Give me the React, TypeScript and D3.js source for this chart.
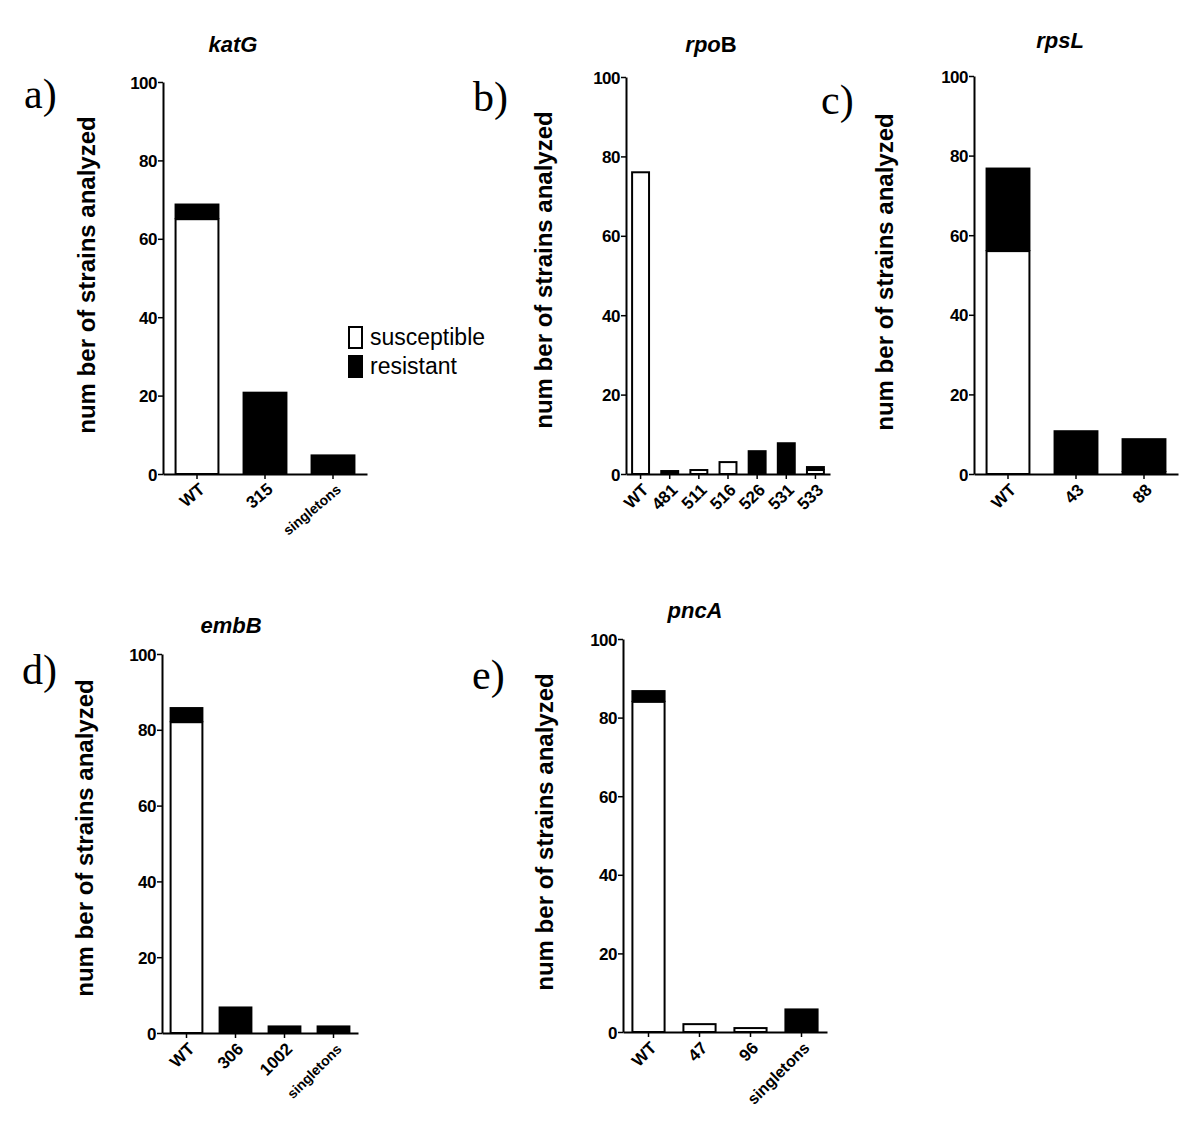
import React, { useRef, useEffect } from 'react';
import * as d3 from 'd3';

// values (counts of strains)
const yTicks = [0, 20, 40, 60, 80, 100];

const katgCats = ['WT', '315', 'singletons'];
const katgSusceptible = [65, 0, 0];
const katgResistant = [4, 21, 5];

const rpobCats = ['WT', '481', '511', '516', '526', '531', '533'];
const rpobSusceptible = [76, 0, 1, 3, 0, 0, 1];
const rpobResistant = [0, 1, 0, 0, 6, 8, 1];

const rpslCats = ['WT', '43', '88'];
const rpslSusceptible = [56, 0, 0.5];
const rpslResistant = [21, 11, 8.5];

const embbCats = ['WT', '306', '1002', 'singletons'];
const embbSusceptible = [82, 0, 0, 0];
const embbResistant = [4, 7, 2, 2];

const pncaCats = ['WT', '47', '96', 'singletons'];
const pncaSusceptible = [84, 2, 1, 0];
const pncaResistant = [3, 0, 0, 6];

const legendLabels = ['susceptible', 'resistant'];

const SANS = "'Liberation Sans', Arial, sans-serif";
const SERIF = "'Liberation Serif', 'Times New Roman', serif";

type Panel = {
  letter: string;
  title: [string, string]; // italic part, upright part
  cats: string[];
  sus: number[];
  res: number[];
  x0: number; x1: number; y0: number; y100: number;
  pad: number;
  letterPos: [number, number];
  titlePos: [number, number];
  ylabelPos: [number, number];
  rot: number;
  longSize: number;
};

const panels: Panel[] = [
  { letter: 'a)', title: ['katG', ''], cats: katgCats, sus: katgSusceptible, res: katgResistant,
    x0: 163, x1: 367, y0: 474, y100: 82, pad: 0.34,
    letterPos: [24, 108], titlePos: [233, 52], ylabelPos: [95, 275], rot: -40, longSize: 14 },
  { letter: 'b)', title: ['rpo', 'B'], cats: rpobCats, sus: rpobSusceptible, res: rpobResistant,
    x0: 626, x1: 830, y0: 474, y100: 77, pad: 0.35,
    letterPos: [473, 111], titlePos: [711, 52], ylabelPos: [552, 270], rot: -45, longSize: 14 },
  { letter: 'c)', title: ['rpsL', ''], cats: rpslCats, sus: rpslSusceptible, res: rpslResistant,
    x0: 974, x1: 1178, y0: 474, y100: 76, pad: 0.34,
    letterPos: [821, 114], titlePos: [1060, 48], ylabelPos: [893, 272], rot: -45, longSize: 14 },
  { letter: 'd)', title: ['embB', ''], cats: embbCats, sus: embbSusceptible, res: embbResistant,
    x0: 162, x1: 358, y0: 1033, y100: 654, pad: 0.31,
    letterPos: [22, 684], titlePos: [231, 633], ylabelPos: [93, 838], rot: -45, longSize: 14 },
  { letter: 'e)', title: ['pncA', ''], cats: pncaCats, sus: pncaSusceptible, res: pncaResistant,
    x0: 623, x1: 827, y0: 1032, y100: 639, pad: 0.33,
    letterPos: [472, 689], titlePos: [695, 618], ylabelPos: [553, 832], rot: -45, longSize: 16 },
];

const App = () => {
  const ref = useRef<SVGSVGElement | null>(null);

  useEffect(() => {
    const svg = d3.select(ref.current);
    svg.selectAll('*').remove();

    panels.forEach(p => {
      const g = svg.append('g');
      const x = d3.scaleBand<string>()
        .domain(p.cats)
        .range([p.x0, p.x1])
        .paddingInner(p.pad)
        .paddingOuter(p.pad / 2);
      const y = d3.scaleLinear().domain([0, 100]).range([p.y0, p.y100]);

      // bars: white susceptible part, black resistant stacked on top
      p.cats.forEach((c, i) => {
        const s = p.sus[i];
        const r = p.res[i];
        if (r > 0) {
          g.append('rect')
            .attr('x', x(c)!)
            .attr('width', x.bandwidth())
            .attr('y', y(s + r))
            .attr('height', y(s) - y(s + r))
            .attr('fill', '#000');
        }
        if (s > 0) {
          g.append('rect')
            .attr('x', x(c)! + 1)
            .attr('width', x.bandwidth() - 2)
            .attr('y', y(s))
            .attr('height', y(0) - y(s))
            .attr('fill', '#fff')
            .attr('stroke', '#000')
            .attr('stroke-width', 2);
        }
      });

      // y axis
      const yAxis = g.append('g')
        .attr('transform', `translate(${p.x0},0)`)
        .call(d3.axisLeft(y).tickValues(yTicks).tickSize(5).tickSizeOuter(0));
      yAxis.select('.domain').attr('stroke-width', 2);
      yAxis.selectAll('line').attr('stroke-width', 1.5);
      yAxis.selectAll('text')
        .attr('font-family', SANS).attr('font-size', 17).attr('font-weight', 'bold')
        .attr('fill', '#000').attr('x', -6).attr('dy', '0.36em')
        .attr('letter-spacing', -0.5);

      // x axis
      const xAxis = g.append('g')
        .attr('transform', `translate(0,${p.y0})`)
        .call(d3.axisBottom(x).tickSize(5).tickSizeOuter(0));
      xAxis.select('.domain').attr('stroke-width', 2);
      xAxis.selectAll('line').attr('stroke-width', 1.5);
      xAxis.selectAll<SVGTextElement, string>('text')
        .attr('font-family', SANS)
        .attr('font-size', d => (d === 'singletons' ? p.longSize : 17))
        .attr('font-weight', 'bold')
        .attr('fill', '#000')
        .attr('text-anchor', 'end')
        .attr('x', 0).attr('y', 0).attr('dy', 0)
        .attr('transform', `translate(9,17) rotate(${p.rot})`);

      // panel letter
      g.append('text')
        .attr('x', p.letterPos[0]).attr('y', p.letterPos[1])
        .attr('font-family', SERIF).attr('font-size', 42)
        .text(p.letter);

      // title
      const t = g.append('text')
        .attr('x', p.titlePos[0]).attr('y', p.titlePos[1])
        .attr('text-anchor', 'middle')
        .attr('font-family', SANS).attr('font-size', 22).attr('font-weight', 'bold');
      t.append('tspan').attr('font-style', 'italic').text(p.title[0]);
      if (p.title[1]) t.append('tspan').text(p.title[1]);

      // y label
      g.append('text')
        .attr('transform', `translate(${p.ylabelPos[0]},${p.ylabelPos[1]}) rotate(-90)`)
        .attr('text-anchor', 'middle')
        .attr('font-family', SANS).attr('font-size', 24).attr('font-weight', 'bold')
        .text('num ber of strains analyzed');
    });

    // legend (panel a)
    const leg = svg.append('g').attr('transform', 'translate(348,326)');
    legendLabels.forEach((l, i) => {
      leg.append('rect')
        .attr('x', 1).attr('y', i * 29 + 1)
        .attr('width', 13).attr('height', 21)
        .attr('fill', i === 0 ? '#fff' : '#000')
        .attr('stroke', '#000').attr('stroke-width', 2);
      leg.append('text')
        .attr('x', 22).attr('y', i * 29 + 19)
        .attr('font-family', SANS).attr('font-size', 23)
        .text(l);
    });
  }, []);

  return (
    <svg ref={ref} width={1200} height={1128}
      style={{ position: 'absolute', left: 0, top: 0, background: '#fff' }} />
  );
};

export default App;
